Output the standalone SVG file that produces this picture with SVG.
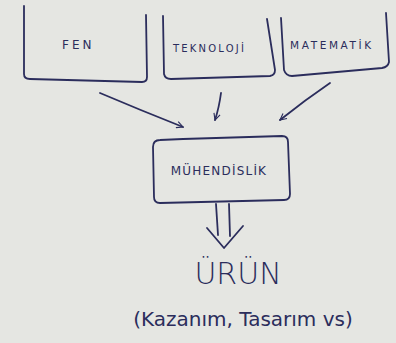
<svg xmlns="http://www.w3.org/2000/svg" width="396" height="343" viewBox="0 0 396 343">
<style>
.ink{fill:none;stroke:#2b2d5c;stroke-width:1.8;stroke-linecap:round;stroke-linejoin:round}
.t{fill:#2b2d5c;font-family:"DejaVu Sans","Liberation Sans",sans-serif}
</style>
<defs>
<marker id="ah" viewBox="0 0 10 10" refX="9" refY="5" markerWidth="8" markerHeight="8" orient="auto" markerUnits="userSpaceOnUse">
<path d="M1,1 L9,5 L1,9" fill="none" stroke="#2b2d5c" stroke-width="1.4"/>
</marker>
</defs>
<rect width="396" height="343" fill="#e5e6e2"/>
<g id="fen">
<path class="ink" d="M24,6 L24,74 Q24,79 30,79 L142,82 Q147,82 147,77 L146,15"/>
<text class="t" x="62" y="49" font-size="12" letter-spacing="3">FEN</text>
</g>
<g id="teknoloji">
<path class="ink" d="M163,16 L164,74 Q165,79 171,79 L270,76 Q275,75 275,70 L267,19"/>
<text class="t" x="173" y="52" font-size="10" letter-spacing="2.2">TEKNOLOJİ</text>
</g>
<g id="matematik">
<path class="ink" d="M281,18 L284,70 Q286,76 292,76 L382,68 Q388,67 389,62 L386,13"/>
<text class="t" x="290" y="49" font-size="10.5" letter-spacing="2.6">MATEMATİK</text>
</g>
<g id="muhendislik">
<path class="ink" d="M160,140 L183,139 L282,136 Q288,136 288,142 L290,194 Q290,200 284,200 L160,203 Q154,203 154,197 L153,147 Q153,140 160,140 Z"/>
<text class="t" x="219" y="175" font-size="12" text-anchor="middle" letter-spacing="1.2">MÜHENDİSLİK</text>
</g>
<g id="urun">
<text class="t" x="238" y="284" font-size="30" text-anchor="middle" font-weight="300">ÜRÜN</text>
<text class="t" x="243" y="326" font-size="20" text-anchor="middle">(Kazanım, Tasarım vs)</text>
</g>
<g id="connectors">
<path class="ink" d="M100,93 Q140,110 183,127" marker-end="url(#ah)"/>
<path class="ink" d="M221,93 Q219,108 215,120" marker-end="url(#ah)"/>
<path class="ink" d="M330,83 Q305,100 280,120" marker-end="url(#ah)"/>
<path class="ink" d="M216,204 L218,235 M229,204 L230,236 M207,228 L224,248 L243,226"/>
</g>
</svg>
